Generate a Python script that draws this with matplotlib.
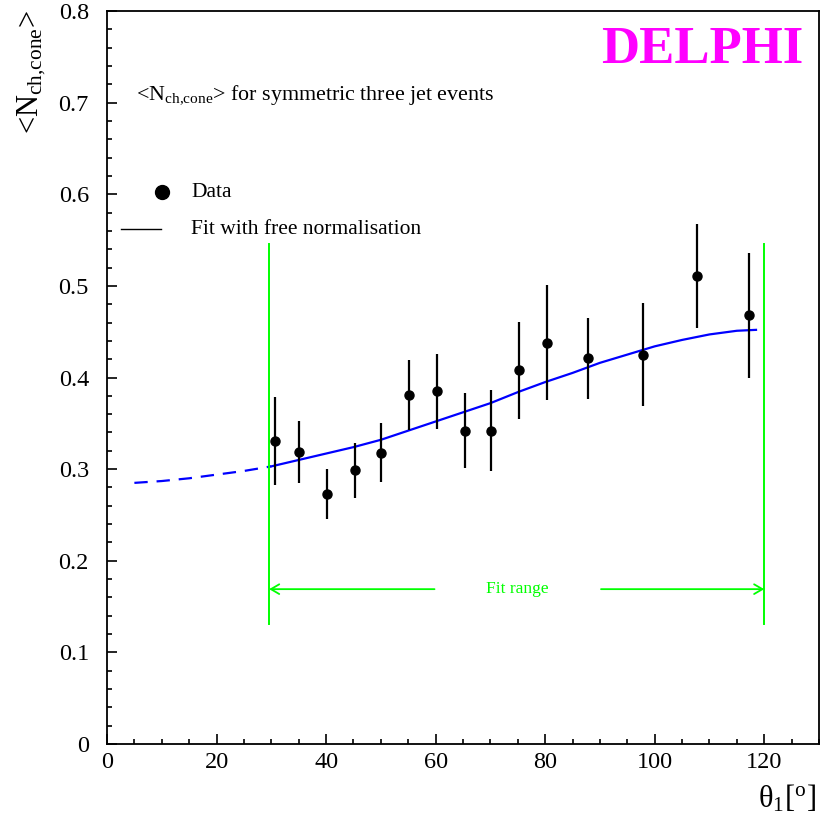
import numpy as np
import matplotlib
matplotlib.use("Agg")
import matplotlib.pyplot as plt

plt.rcParams['font.family'] = ['Liberation Serif', 'DejaVu Serif']
plt.rcParams['mathtext.fontset'] = 'custom'
plt.rcParams['mathtext.rm'] = 'Liberation Serif'
plt.rcParams['mathtext.it'] = 'Liberation Serif:italic'

# data points (theta_1 in degrees, <N_ch,cone>, error)
theta = [30.7, 35.1, 40.2, 45.2, 50.1, 55.1, 60.2, 65.3, 70.1, 75.2, 80.3, 87.8, 97.9, 107.7, 117.2]
ncone = [0.331, 0.319, 0.273, 0.299, 0.318, 0.381, 0.385, 0.342, 0.342, 0.408, 0.438, 0.421, 0.425, 0.511, 0.468]
ncone_err = [0.048, 0.034, 0.027, 0.030, 0.032, 0.038, 0.041, 0.041, 0.044, 0.053, 0.063, 0.044, 0.056, 0.057, 0.068]

# fit curve, extrapolated part (dashed) and fit range part (solid)
fit_x_ext = [5, 10, 15, 20, 25, 30]
fit_y_ext = [0.285, 0.287, 0.290, 0.294, 0.298, 0.303]
fit_x = [30, 35, 40, 45, 50, 55, 60, 65, 70, 75, 80, 85, 90, 95, 100, 105, 110, 115, 118.5]
fit_y = [0.303, 0.310, 0.317, 0.324, 0.332, 0.342, 0.352, 0.362, 0.372, 0.384, 0.395, 0.405,
         0.416, 0.425, 0.434, 0.441, 0.447, 0.451, 0.452]

fit_range = [29.6, 120]

fig = plt.figure(figsize=(8.21, 8.24), dpi=100)
ax = fig.add_axes([107 / 821, 1 - 744 / 824, 712 / 821, 733 / 824])

ax.plot(fit_x_ext, fit_y_ext, color='#0000ff', lw=1.6, dashes=(6, 4))
ax.plot(fit_x, fit_y, color='#0000ff', lw=1.6)
ax.errorbar(theta, ncone, yerr=ncone_err, fmt='o', color='black', ms=6.5,
            elinewidth=1.6, capsize=0, zorder=5)

# fit range markers
green = '#00ff00'
for xr in fit_range:
    ax.plot([xr, xr], [0.131, 0.546], color=green, lw=1.4)
ax.annotate('', xy=(fit_range[0], 0.169), xytext=(59.8, 0.169),
            arrowprops=dict(arrowstyle='->,head_length=0.6,head_width=0.35', color=green, lw=1.3,
                            shrinkA=0, shrinkB=0))
ax.annotate('', xy=(fit_range[1], 0.169), xytext=(90.2, 0.169),
            arrowprops=dict(arrowstyle='->,head_length=0.6,head_width=0.35', color=green, lw=1.3,
                            shrinkA=0, shrinkB=0))
ax.text(75, 0.169, 'Fit range', color=green, fontsize=12.5, ha='center', va='center')

# legend drawn by hand
ax.plot([10.0], [0.602], 'o', color='black', ms=10)
ax.plot([2.6, 9.9], [0.562, 0.562], color='black', lw=1.0)
ax.text(15.4, 0.602, 'Data', fontsize=15.5, va='center')
ax.text(15.4, 0.562, 'Fit with free normalisation', fontsize=15.5, va='center')

ax.text(5.3, 0.703, r'<N$_{\rm ch{,}cone}$> for symmetric three jet events', fontsize=15.8,
        va='baseline')
ax.text(0.978, 0.979, 'DELPHI', transform=ax.transAxes, color='#ff00ff', fontsize=38,
        fontweight='bold', ha='right', va='top')

ax.set_xlim(0, 130)
ax.set_ylim(0, 0.8)
ax.set_xticks(np.arange(0, 121, 20))
ax.set_xticks(np.arange(0, 131, 5), minor=True)
ax.set_yticks(np.arange(0, 0.81, 0.1))
ax.set_yticks(np.arange(0, 0.81, 0.02), minor=True)
ax.set_yticklabels(['0', '0.1', '0.2', '0.3', '0.4', '0.5', '0.6', '0.7', '0.8'])
ax.tick_params(which='both', direction='in', top=False, right=False, labelsize=17.5, width=1.2)
ax.tick_params(which='major', length=7)
ax.tick_params(which='minor', length=3.5)
ax.tick_params(axis='y', pad=13)
ax.tick_params(axis='x', pad=6)
for s in ax.spines.values():
    s.set_linewidth(1.3)

fig.text(816 / 821, 1 - 808 / 824, 'θ$_1$[$^{\\rm o}$]', fontsize=22, ha='right', va='baseline')
fig.text(32 / 821, 1 - 72 / 824, r'<N$_{\rm ch{,}cone}$>', fontsize=22, rotation=90,
         ha='center', va='center')

fig.savefig('out.png', dpi=100)
